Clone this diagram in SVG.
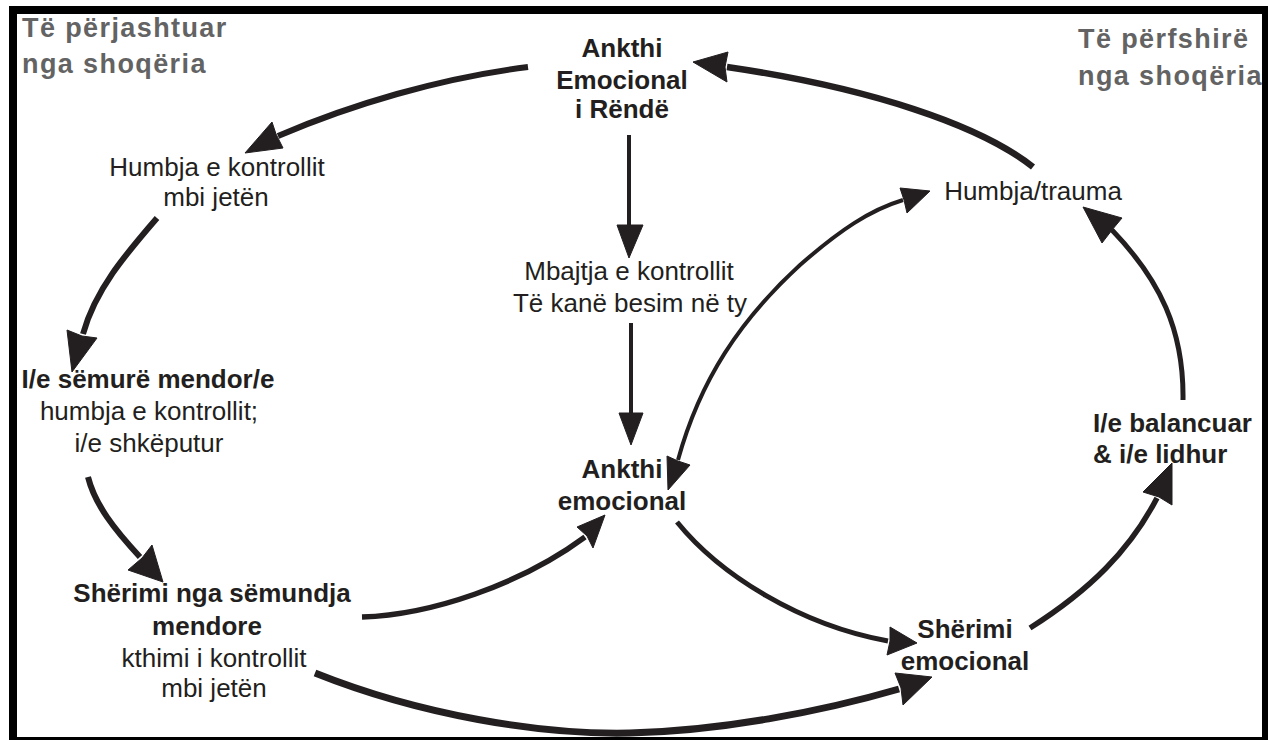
<svg xmlns="http://www.w3.org/2000/svg" width="1268" height="740" viewBox="0 0 1268 740">
<style>
.t{font-family:"Liberation Sans",Arial,sans-serif;font-size:26px;fill:#231f20;text-anchor:middle}
.b{font-weight:bold}
.g{font-family:"Liberation Sans",Arial,sans-serif;font-size:27px;font-weight:bold;fill:#636363;letter-spacing:1.4px}
.c{fill:none;stroke:#231f20;stroke-linecap:butt;stroke-linejoin:round}
.h{fill:#231f20;stroke:#231f20;stroke-width:1;stroke-linejoin:miter}
</style>
<rect x="0" y="0" width="1268" height="740" fill="#ffffff"/>
<rect x="13" y="10" width="1253" height="731" fill="none" stroke="#000000" stroke-width="8"/>

<g id="title-left">
<text class="g" x="22" y="37">Të përjashtuar</text>
<text class="g" x="22" y="73">nga shoqëria</text>
</g>
<g id="title-right">
<text class="g" x="1078" y="48">Të përfshirë</text>
<text class="g" x="1078" y="85">nga shoqëria</text>
</g>

<g id="node-ankthi-rende">
<text class="t b" x="622" y="57">Ankthi</text>
<text class="t b" x="622" y="89">Emocional</text>
<text class="t b" x="622" y="118">i Rëndë</text>
</g>
<g id="node-humbja-kontrollit">
<text class="t" x="217" y="176">Humbja e kontrollit</text>
<text class="t" x="216" y="206">mbi jetën</text>
</g>
<g id="node-semure">
<text class="t b" x="148" y="388">I/e sëmurë mendor/e</text>
<text class="t" x="149" y="420">humbja e kontrollit;</text>
<text class="t" x="149" y="452">i/e shkëputur</text>
</g>
<g id="node-sherimi-semundja">
<text class="t b" x="212" y="602">Shërimi nga sëmundja</text>
<text class="t b" x="207" y="635">mendore</text>
<text class="t" x="214" y="667">kthimi i kontrollit</text>
<text class="t" x="214" y="697">mbi jetën</text>
</g>
<g id="node-mbajtja">
<text class="t" x="629" y="280">Mbajtja e kontrollit</text>
<text class="t" x="630" y="312">Të kanë besim në ty</text>
</g>
<g id="node-ankthi-emocional">
<text class="t b" x="622" y="478">Ankthi</text>
<text class="t b" x="622" y="510">emocional</text>
</g>
<g id="node-humbja-trauma">
<text class="t" x="1033" y="200">Humbja/trauma</text>
</g>
<g id="node-balancuar">
<text class="t b" x="1093" y="432" style="text-anchor:start">I/e balancuar</text>
<text class="t b" x="1093" y="463" style="text-anchor:start">&amp; i/e lidhur</text>
</g>
<g id="node-sherimi-emocional">
<text class="t b" x="965" y="638">Shërimi</text>
<text class="t b" x="965" y="670">emocional</text>
</g>

<g id="connectors">
<path class="c" stroke-width="6" d="M528,67 C440,78 350,105 278,136"/>
<polygon class="h" points="245,153 272,122 276,134 283,148"/>

<path class="c" stroke-width="6" d="M157,218 C125,255 95,290 83,334"/>
<polygon class="h" points="72,372 67,330 82,336 97,338"/>

<path class="c" stroke-width="6" d="M88,477 C95,505 115,530 140,557"/>
<polygon class="h" points="163,582 128,570 142,558 152,545"/>

<path class="c" stroke-width="5.5" d="M362,617 C430,615 520,585 585,537"/>
<polygon class="h" points="605,515 577,527 587,536 593,548"/>

<path class="c" stroke-width="5" d="M677,522 C720,575 800,625 888,641"/>
<polygon class="h" points="917,643 890,627 890,641 887,655"/>

<path class="c" stroke-width="7" d="M315,673 C420,715 540,735 630,733 S820,712 899,689"/>
<polygon class="h" points="932,677 895,673 901,688 903,705"/>

<path class="c" stroke-width="5.5" d="M1030,628 C1090,590 1130,550 1157,498"/>
<polygon class="h" points="1172,463 1143,492 1159,497 1172,505"/>

<path class="c" stroke-width="5" d="M1183,400 C1184,330 1160,280 1112,230"/>
<polygon class="h" points="1083,207 1122,218 1112,230 1102,243"/>

<path class="c" stroke-width="6.5" d="M1033,167 C980,125 870,88 727,67"/>
<polygon class="h" points="693,62 728,52 725,67 727,82"/>

<path class="c" stroke-width="4" d="M629,135 L629,227"/>
<polygon class="h" points="617,225 643,225 629,258"/>

<path class="c" stroke-width="4" d="M631,323 L631,415"/>
<polygon class="h" points="619,413 643,413 631,445"/>

<path class="c" stroke-width="4" d="M678,460 C700,380 740,320 800,265 C840,230 870,210 903,200"/>
<polygon class="h" points="668,490 667,456 678,461 690,465"/>
<polygon class="h" points="930,191 900,188 904,200 907,213"/>
</g>
</svg>
